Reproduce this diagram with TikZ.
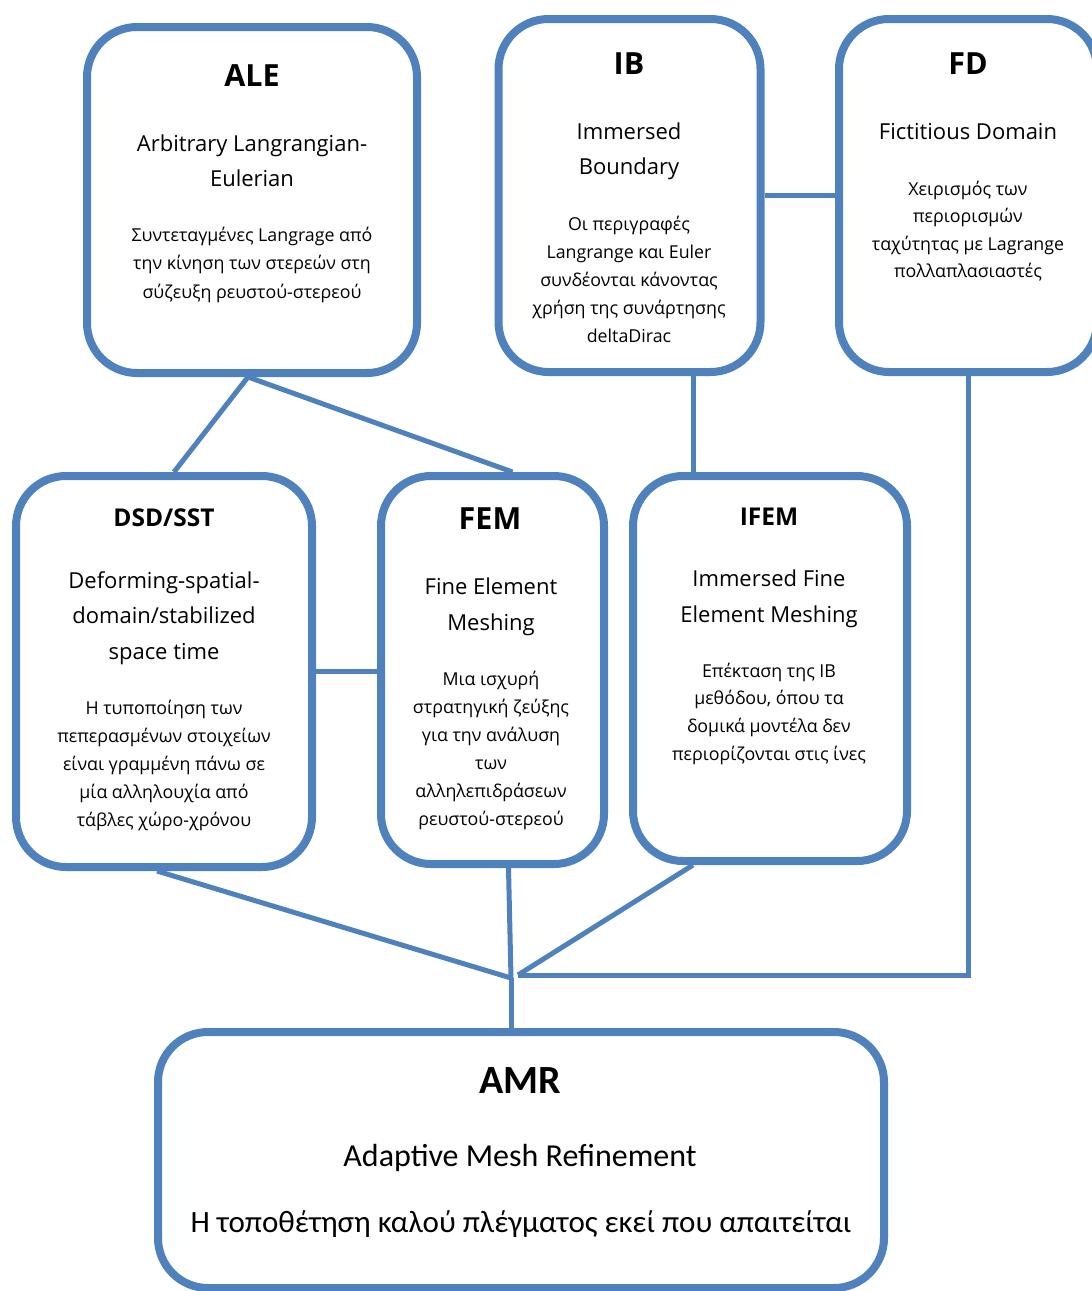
\documentclass[tikz,border=0pt]{standalone}
\usepackage{fontspec}
\setmainfont{Open Sans}
\newfontfamily\calibri{Carlito}
\definecolor{mblue}{HTML}{4F81BD}
\begin{document}
\begin{tikzpicture}[x=1pt,y=-1pt,
  box/.style={draw=mblue, line width=8pt, rounded corners=50pt, inner sep=0pt},
  link/.style={draw=mblue, line width=5pt},
  ttl/.style={font=\bfseries\fontsize{30.5}{34}\selectfont, anchor=base, inner sep=0pt},
  ttls/.style={font=\bfseries\fontsize{24.5}{28}\selectfont, anchor=base, inner sep=0pt},
  sub/.style={font=\fontsize{22}{35}\selectfont, anchor=base, inner sep=0pt},
  body/.style={font=\fontsize{17.8}{28}\selectfont, anchor=base, inner sep=0pt}]
\useasboundingbox (0,0) rectangle (1092,1291);
\clip (0,0) rectangle (1092,1291);
% boxes
\node[box, minimum width=330pt, minimum height=346pt] (ALE) at (252,200) {};
\node[box, minimum width=262pt, minimum height=353pt] (IB) at (629.5,195.5) {};
\node[box, minimum width=258pt, minimum height=353pt] (FD) at (968,195.5) {};
\node[box, minimum width=296pt, minimum height=391pt] (DSD) at (164,671.5) {};
\node[box, minimum width=223pt, minimum height=388pt] (FEM) at (492.5,670) {};
\node[box, minimum width=274pt, minimum height=385pt] (IFEM) at (770,668.5) {};
\node[box, minimum width=726pt, minimum height=256pt] (AMR) at (521,1160) {};
\coordinate (J) at (511,978);
\coordinate (J2) at (518,975);
% connectors
\draw[link] ([xshift=-4pt]ALE.south) -- ([xshift=10pt]DSD.north);
\draw[link] ([xshift=-4pt]ALE.south) -- ([xshift=20pt]FEM.north);
\draw[link] (IB.east) -- (FD.west);
\draw[link] ([xshift=63.5pt]IB.south) -- ([xshift=-77pt]IFEM.north);
\draw[link] (DSD.east) -- (DSD.east -| FEM.west);
\draw[link] (FD.south) -- (FD.south |- J2) -- (J2);
\draw[link] ([xshift=-7pt]DSD.south) -- (J);
\draw[link] ([xshift=16pt]FEM.south) -- (J);
\draw[link] ([xshift=-77pt]IFEM.south) -- (J2);
\draw[link] (J) -- (J |- AMR.north);
% ALE
\node[ttl] (ale-t) at (252,86) {ALE};
\foreach \t [count=\i from 0] in {{Arbitrary Langrangian-},{Eulerian}}
  \node[sub] (ale-s\i) at (252,{151+35*\i}) {\t};
\foreach \t [count=\i from 0] in {{Συντεταγμένες Langrage από},{την κίνηση των στερεών στη},{σύζευξη ρευστού-στερεού}}
  \node[body] (ale-b\i) at (252,{241+28.5*\i}) {\t};
% IB
\node[ttl] (ib-t) at (629,74) {IB};
\foreach \t [count=\i from 0] in {{Immersed},{Boundary}}
  \node[sub] (ib-s\i) at (629,{139+35*\i}) {\t};
\foreach \t [count=\i from 0] in {{Οι περιγραφές},{Langrange και Euler},{συνδέονται κάνοντας},{χρήση της συνάρτησης},{deltaDirac}}
  \node[body] (ib-b\i) at (629,{230+28*\i}) {\t};
% FD
\node[ttl] (fd-t) at (968,74) {FD};
\node[sub] (fd-s0) at (968,139) {Fictitious Domain};
\foreach \t [count=\i from 0] in {{Χειρισμός των},{περιορισμών},{ταχύτητας με Lagrange},{πολλαπλασιαστές}}
  \node[body] (fd-b\i) at (968,{195+27.5*\i}) {\t};
% DSD/SST
\node[ttls] (dsd-t) at (164,526) {DSD/SST};
\foreach \t [count=\i from 0] in {{Deforming-spatial-},{domain/stabilized},{space time}}
  \node[sub] (dsd-s\i) at (164,{588+35.5*\i}) {\t};
\foreach \t [count=\i from 0] in {{Η τυποποίηση των},{πεπερασμένων στοιχείων},{είναι γραμμένη πάνω σε},{μία αλληλουχία από},{τάβλες χώρο-χρόνου}}
  \node[body] (dsd-b\i) at (164,{714+28.2*\i}) {\t};
% FEM
\node[ttl] (fem-t) at (490,529) {FEM};
\foreach \t [count=\i from 0] in {{Fine Element},{Meshing}}
  \node[sub] (fem-s\i) at (491,{594+36*\i}) {\t};
\foreach \t [count=\i from 0] in {{Μια ισχυρή},{στρατηγική ζεύξης},{για την ανάλυση},{των},{αλληλεπιδράσεων},{ρευστού-στερεού}}
  \node[body] (fem-b\i) at (491,{685+28*\i}) {\t};
% IFEM
\node[ttls] (ifem-t) at (769,525) {IFEM};
\foreach \t [count=\i from 0] in {{Immersed Fine},{Element Meshing}}
  \node[sub] (ifem-s\i) at (769,{586+36*\i}) {\t};
\foreach \t [count=\i from 0] in {{Επέκταση της IB},{μεθόδου, όπου τα},{δομικά μοντέλα δεν},{περιορίζονται στις ίνες}}
  \node[body] (ifem-b\i) at (769,{677+27.7*\i}) {\t};
% AMR
\node[anchor=base, inner sep=0pt, font=\calibri\bfseries\fontsize{40}{42}\selectfont] (amr-t) at (520,1093) {AMR};
\node[anchor=base, inner sep=0pt, font=\calibri\fontsize{32}{36}\selectfont] (amr-s) at (520,1166) {Adaptive Mesh Refinement};
\node[anchor=base, inner sep=0pt, font=\calibri\fontsize{31}{36}\selectfont] (amr-b) at (521,1232) {Η τοποθέτηση καλού πλέγματος εκεί που απαιτείται};
\end{tikzpicture}
\end{document}
